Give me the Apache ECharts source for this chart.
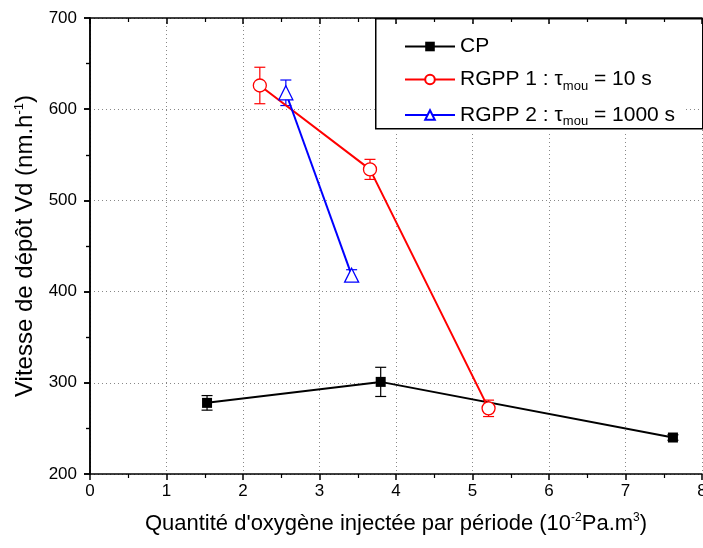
<!DOCTYPE html>
<html>
<head>
<meta charset="utf-8">
<script src="https://cdn.jsdelivr.net/npm/echarts@6/dist/echarts.min.js"></script>
<style>html,body{margin:0;padding:0;background:#fff;overflow:hidden}#chart{width:703px;height:548px}</style>
</head>
<body>
<div id="chart"></div>
<script>
// ── Data ──────────────────────────────────────────────
const cpX   = [1.53, 3.8, 7.62];
const cpY   = [278, 301, 240];
const cpErr = [8, 16, 3];

const r1X   = [2.22, 3.66, 5.21];
const r1Y   = [626, 534, 272];
const r1Err = [20, 11, 9];

const r2X   = [2.56, 3.42];
const r2Y   = [618, 418];
const r2Err = [14, 6];

const xTicks = [0, 1, 2, 3, 4, 5, 6, 7, 8];
const yTicks = [200, 300, 400, 500, 600, 700];

// ── Style ─────────────────────────────────────────────
const font = 'Liberation Sans, Arial, sans-serif';
const cBlack = '#000000', cRed = '#ff0000', cBlue = '#0000ff';

const pts = (xs, ys) => xs.map((x, i) => [x, ys[i]]);
const errs = (xs, ys, es) => xs.map((x, i) => [x, ys[i] - es[i], ys[i] + es[i]]);

function errSeries(name, data, color) {
  return {
    type: 'custom', name: name + '_err', silent: true, z: 3,
    data: data,
    renderItem: (params, api) => {
      const lo = api.coord([api.value(0), api.value(1)]);
      const hi = api.coord([api.value(0), api.value(2)]);
      const w = 5.5;
      const st = { stroke: color, lineWidth: 1.2 };
      return { type: 'group', children: [
        { type: 'line', shape: { x1: lo[0], y1: lo[1], x2: hi[0], y2: hi[1] }, style: st },
        { type: 'line', shape: { x1: lo[0] - w, y1: lo[1], x2: lo[0] + w, y2: lo[1] }, style: st },
        { type: 'line', shape: { x1: hi[0] - w, y1: hi[1], x2: hi[0] + w, y2: hi[1] }, style: st },
      ]};
    },
  };
}

const axisLine = { show: true, lineStyle: { color: cBlack, width: 1.5 } };
// outerBoundsMode 'none' keeps the grid where it is set (the "8" label may be clipped)
const grid = { left: 90, right: 1, top: 18, bottom: 74, containLabel: false, outerBoundsMode: 'none' };

const chart = echarts.init(document.getElementById('chart'), null, { renderer: 'canvas', width: 703, height: 548 });
chart.setOption({
  animation: false,
  backgroundColor: '#fff',
  grid: grid,
  graphic: [{
    type: 'rect', left: 375, top: 18, z: 10,
    shape: { width: 327, height: 110 },
    style: { fill: 'transparent', stroke: cBlack, lineWidth: 1.5 },
  }],
  legend: {
    orient: 'vertical', left: 376, top: 24,
    padding: [12, 10, 4, 28], itemGap: 12, itemWidth: 50, itemHeight: 12,
    backgroundColor: '#fff',
    data: ['CP', 'RGPP1', 'RGPP2'],
    formatter: (n) => n === 'CP' ? 'CP'
      : n === 'RGPP1' ? 'RGPP 1 : τ{sub|mou} = 10 s'
      : 'RGPP 2 : τ{sub|mou} = 1000 s',
    textStyle: {
      fontFamily: font, fontSize: 21, color: cBlack,
      rich: { sub: { fontFamily: font, fontSize: 13, padding: [13, 0, 0, 0], color: cBlack } },
    },
  },
  xAxis: [
    {
      type: 'value', min: 0, max: 8, interval: 1,
      name: "Quantité d'oxygène injectée par période (10{sup|-2}Pa.m{sup|3})",
      nameLocation: 'middle', nameGap: 38,
      nameTextStyle: { fontFamily: font, fontSize: 22, color: cBlack,
        rich: { sup: { fontSize: 12, padding: [0, 0, 12, 0], fontFamily: font, color: cBlack } } },
      axisLine: axisLine,
      axisTick: { show: true, inside: false, length: 6, lineStyle: { color: cBlack, width: 1.5 } },
      minorTick: { show: true, splitNumber: 2, length: 4, lineStyle: { color: cBlack, width: 1.2 } },
      axisLabel: { fontFamily: font, fontSize: 17, color: cBlack, margin: 9,
        formatter: (v) => xTicks.includes(v) ? String(v) : '' },
      splitLine: { show: true, lineStyle: { color: '#888', type: [1, 3], width: 1 } },
    },
    {
      type: 'value', min: 0, max: 8, interval: 1, position: 'top',
      axisLine: axisLine,
      axisTick: { show: true, inside: true, length: 6, lineStyle: { color: cBlack, width: 1.5 } },
      minorTick: { show: true, splitNumber: 2, length: 4, lineStyle: { color: cBlack, width: 1.2 } },
      axisLabel: { show: false }, splitLine: { show: false },
    },
  ],
  yAxis: [
    {
      type: 'value', min: 200, max: 700, interval: 100,
      name: 'Vitesse de dépôt Vd (nm.h{sup|-1})',
      nameLocation: 'middle', nameGap: 47, nameRotate: 90,
      nameTextStyle: { fontFamily: font, fontSize: 24, color: cBlack,
        rich: { sup: { fontSize: 13, padding: [0, 0, 13, 0], fontFamily: font, color: cBlack } } },
      axisLine: axisLine,
      axisTick: { show: true, inside: false, length: 6, lineStyle: { color: cBlack, width: 1.5 } },
      minorTick: { show: true, splitNumber: 2, length: 4, lineStyle: { color: cBlack, width: 1.2 } },
      axisLabel: { fontFamily: font, fontSize: 17, color: cBlack, margin: 13,
        formatter: (v) => yTicks.includes(v) ? String(v) : '' },
      splitLine: { show: true, lineStyle: { color: '#888', type: [1, 3], width: 1 } },
    },
    {
      type: 'value', min: 200, max: 700, interval: 100, position: 'right',
      axisLine: axisLine,
      axisTick: { show: true, inside: true, length: 6, lineStyle: { color: cBlack, width: 1.5 } },
      minorTick: { show: true, splitNumber: 2, length: 4, lineStyle: { color: cBlack, width: 1.2 } },
      axisLabel: { show: false }, splitLine: { show: false },
    },
  ],
  series: [
    errSeries('CP', errs(cpX, cpY, cpErr), cBlack),
    errSeries('RGPP1', errs(r1X, r1Y, r1Err), cRed),
    errSeries('RGPP2', errs(r2X, r2Y, r2Err), cBlue),
    {
      name: 'CP', type: 'line', data: pts(cpX, cpY), z: 4,
      symbol: 'rect', symbolSize: 10,
      lineStyle: { color: cBlack, width: 2 },
      itemStyle: { color: cBlack, borderColor: cBlack, borderWidth: 0 },
    },
    {
      name: 'RGPP1', type: 'line', data: pts(r1X, r1Y), z: 4,
      symbol: 'circle', symbolSize: 13,
      lineStyle: { color: cRed, width: 2 },
      itemStyle: { color: '#fff', borderColor: cRed, borderWidth: 1.3 },
    },
    {
      name: 'RGPP2', type: 'line', data: pts(r2X, r2Y), z: 4,
      symbol: 'triangle', symbolSize: 14,
      lineStyle: { color: cBlue, width: 2 },
      itemStyle: { color: '#fff', borderColor: cBlue, borderWidth: 1.3 },
    },
  ],
});
</script>
</body>
</html>
